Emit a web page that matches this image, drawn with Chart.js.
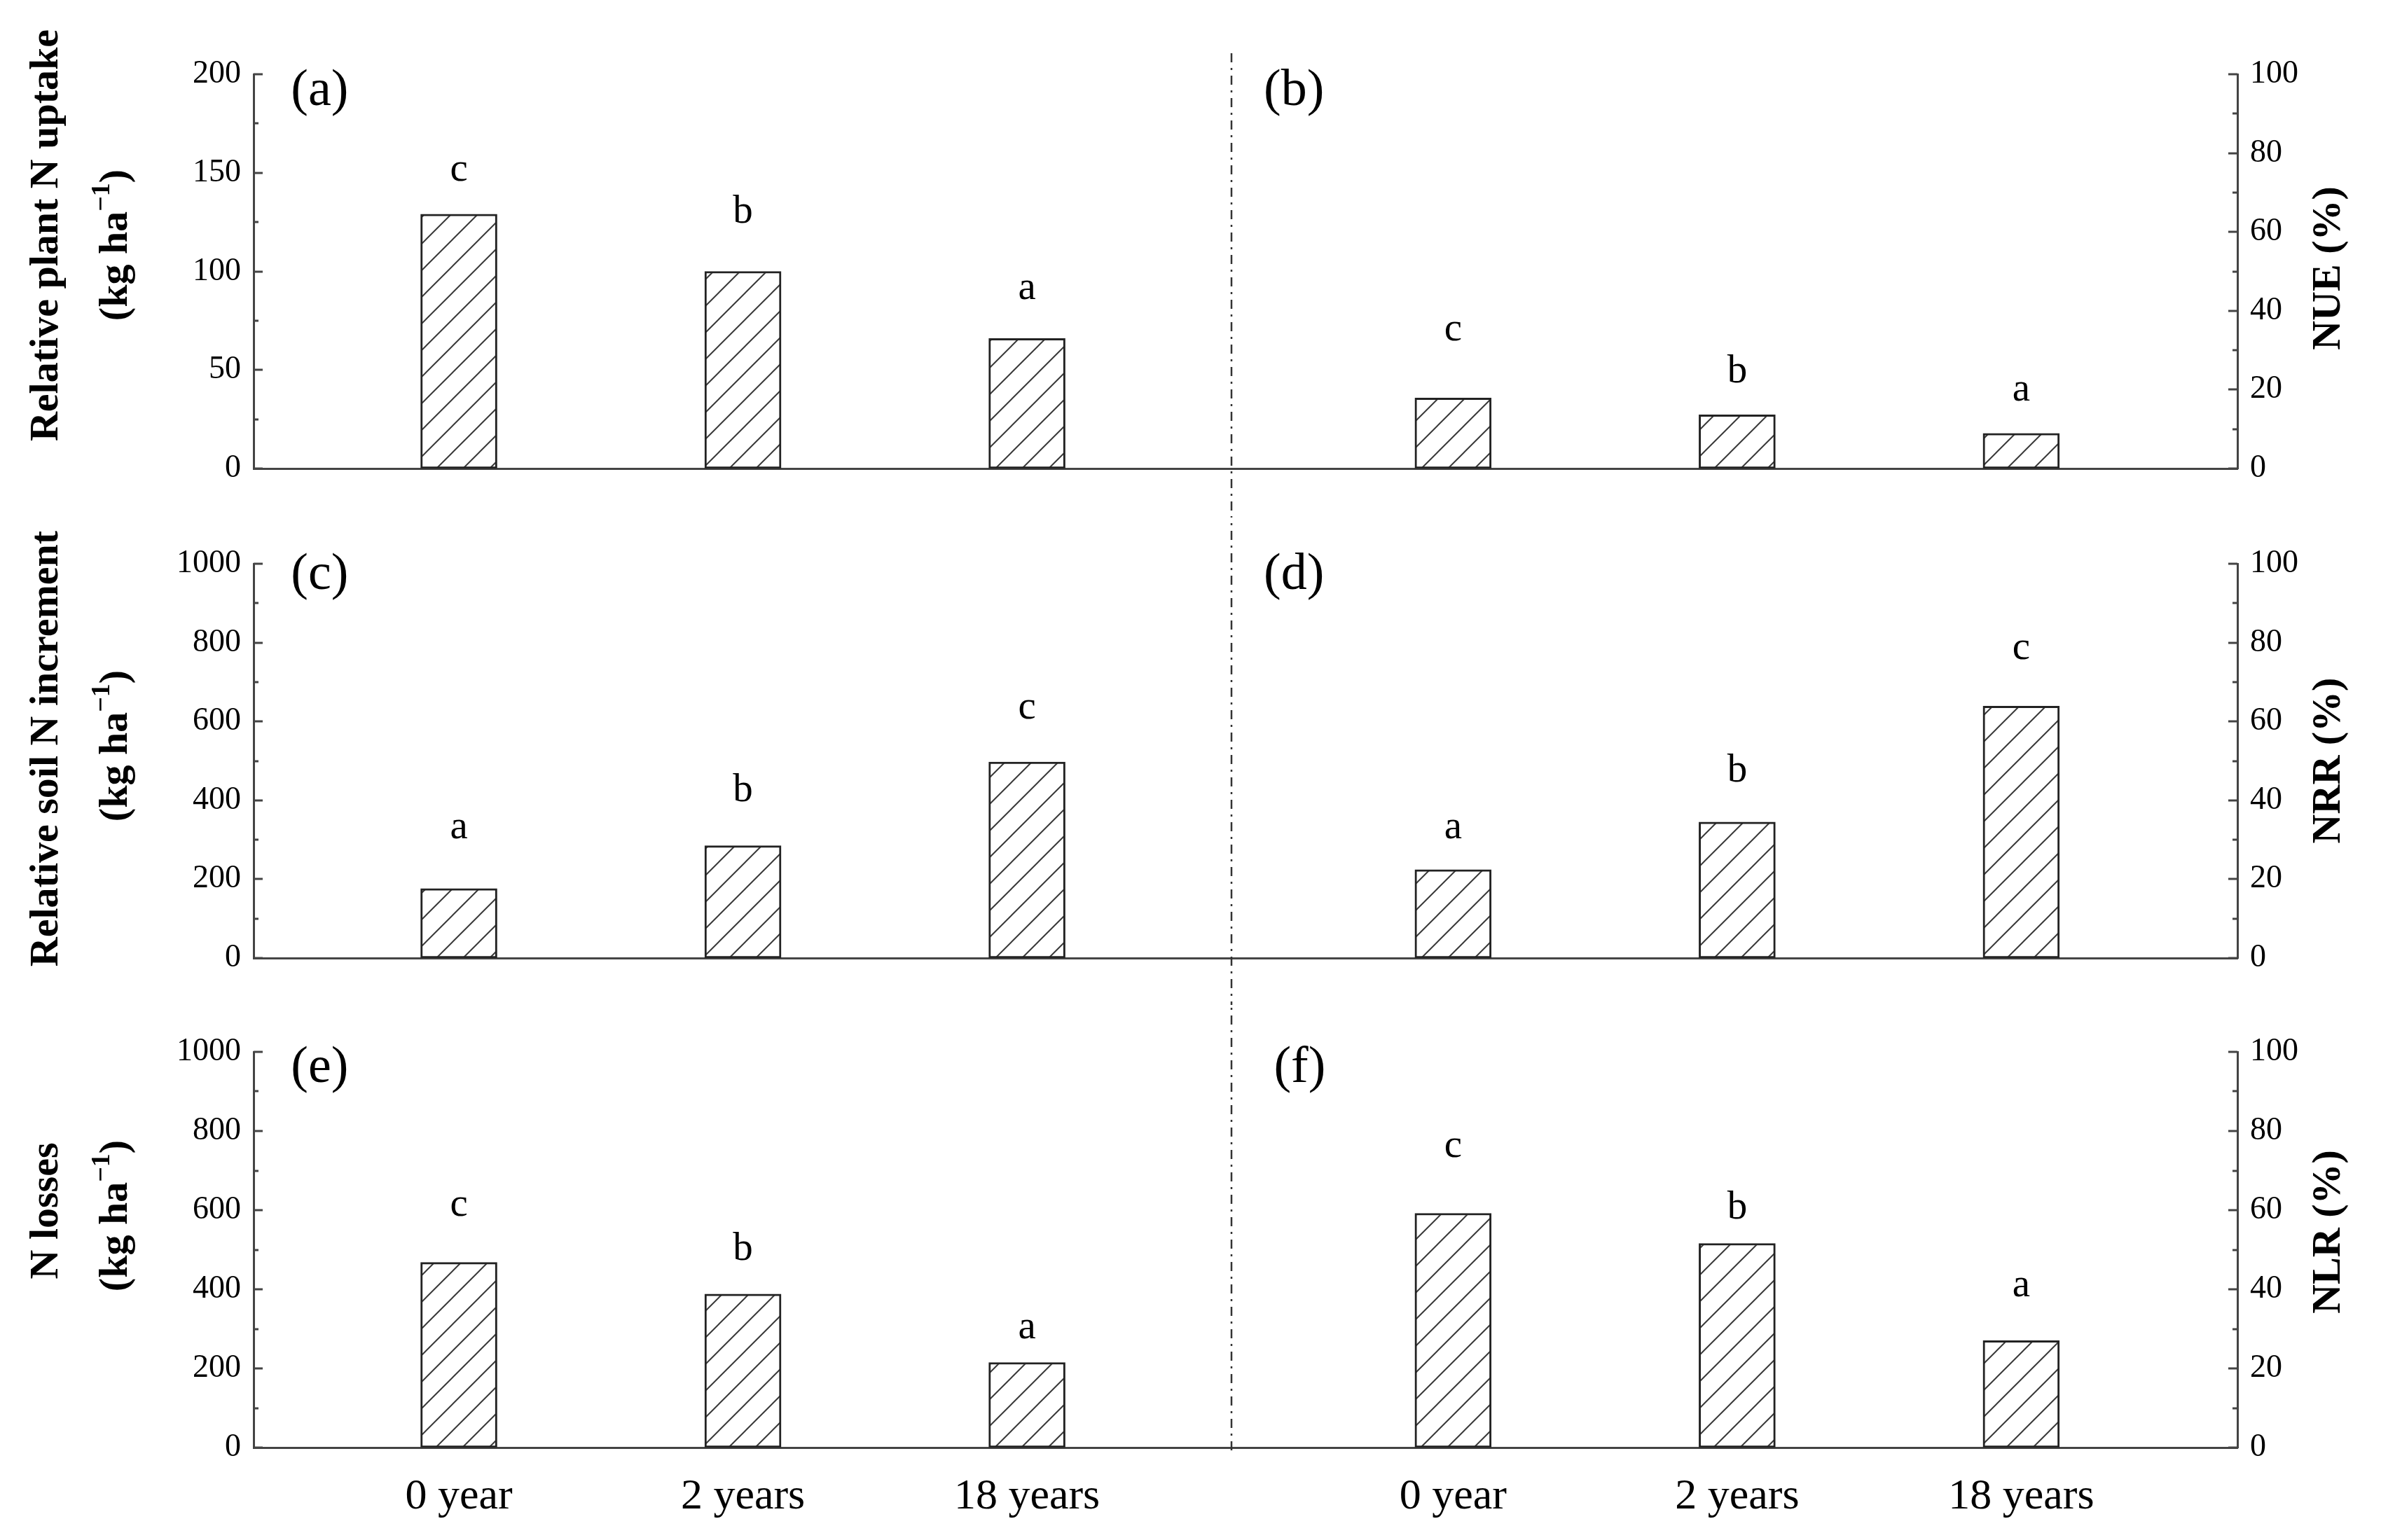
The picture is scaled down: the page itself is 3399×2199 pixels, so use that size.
<!DOCTYPE html>
<html>
<head>
<meta charset="utf-8">
<script src="https://cdn.jsdelivr.net/npm/chart.js@4.4.0/dist/chart.umd.min.js"></script>
<style>
  html, body { margin: 0; padding: 0; background: #fff; }
  #wrap { position: relative; width: 3399px; height: 2199px; overflow: hidden; }
  #wrap canvas { position: absolute; left: 0; }
</style>
</head>
<body>
<div id="wrap">
  <canvas id="row1"></canvas>
  <canvas id="row2"></canvas>
  <canvas id="row3"></canvas>
</div>
<script>
// ---- data ----
const categories = ['0 year', '2 years', '18 years'];

const plantUptake   = [129, 100, 66];      // (a) kg ha-1
const nue           = [17.9, 13.6, 8.9];   // (b) %
const soilIncrement = [176, 285, 497];     // (c) kg ha-1
const nrr           = [22.4, 34.5, 63.9];  // (d) %
const nLosses       = [468, 388, 215];     // (e) kg ha-1
const nlr           = [59.2, 51.6, 27.0];  // (f) %

// significance letters and the height (in axis units) they sit at
const lettersA = ['c', 'b', 'a'];  const letterYA = [150.6, 131.4, 90.6];
const lettersB = ['c', 'b', 'a'];  const letterYB = [34.9, 25.3, 19.5];
const lettersC = ['a', 'b', 'c'];  const letterYC = [327, 431, 631];
const lettersD = ['a', 'b', 'c'];  const letterYD = [32.7, 48.1, 78.2];
const lettersE = ['c', 'b', 'a'];  const letterYE = [608, 508, 300];
const lettersF = ['c', 'b', 'a'];  const letterYF = [75.7, 61.2, 40.5];

// x slots on the shared linear axis: left panel, right panel
const leftSlots  = [0, 1, 2];
const rightSlots = [3.5, 4.5, 5.5];
const dividerAt = 2.72;

// ---- look ----
const FAM = '"Liberation Serif", "Times New Roman", serif';
const AXIS = '#444';
Chart.defaults.font.family = FAM;
Chart.defaults.color = '#000';

function hatch() {
  const p = document.createElement('canvas');
  p.width = p.height = 38;
  const c = p.getContext('2d');
  c.fillStyle = '#fff';
  c.fillRect(0, 0, 38, 38);
  c.strokeStyle = '#3a3a3a';
  c.lineWidth = 2;
  c.beginPath();
  c.moveTo(0, 38); c.lineTo(38, 0);
  c.moveTo(-19, 19); c.lineTo(19, -19);
  c.moveTo(19, 57); c.lineTo(57, 19);
  c.stroke();
  return c.createPattern(p, 'repeat');
}

function drawTicks(ctx, scale, step, side) {
  ctx.save();
  ctx.strokeStyle = AXIS;
  ctx.lineWidth = 3;
  const x0 = side === 'left' ? scale.right : scale.left;
  const dir = side === 'left' ? 1 : -1;
  for (let v = scale.min; v <= scale.max + 1e-9; v += step / 2) {
    const y = Math.round(scale.getPixelForValue(v));
    const major = Math.abs(v / step - Math.round(v / step)) < 1e-6;
    ctx.beginPath();
    ctx.moveTo(x0, y);
    ctx.lineTo(x0 + dir * (major ? 13 : 7), y);
    ctx.stroke();
  }
  ctx.restore();
}

function vText(ctx, text, cx, cy) {
  ctx.save();
  ctx.translate(cx, cy);
  ctx.rotate(-Math.PI / 2);
  ctx.font = 'bold 58px ' + FAM;
  ctx.textAlign = 'center';
  ctx.textBaseline = 'alphabetic';
  ctx.fillStyle = '#000';
  ctx.fillText(text, 0, 19);
  ctx.restore();
}

function vUnit(ctx, cx, cy) {
  ctx.save();
  ctx.translate(cx, cy);
  ctx.rotate(-Math.PI / 2);
  const big = 'bold 58px ' + FAM, small = 'bold 38px ' + FAM;
  const parts = [['(kg ha', big, 19], ['\u22121', small, -6], [')', big, 19]];
  let w = 0;
  parts.forEach(p => { ctx.font = p[1]; w += ctx.measureText(p[0]).width; });
  let x = -w / 2;
  ctx.textAlign = 'left';
  ctx.textBaseline = 'alphabetic';
  ctx.fillStyle = '#000';
  parts.forEach(p => { ctx.font = p[1]; ctx.fillText(p[0], x, p[2]); x += ctx.measureText(p[0]).width; });
  ctx.restore();
}

function makeRow(r) {
  const canvas = document.getElementById(r.id);
  canvas.width = 3399;
  canvas.height = r.height;
  canvas.style.top = r.top + 'px';

  const barStyle = {
    backgroundColor: hatch(),
    borderColor: '#222',
    borderWidth: 3,
    borderSkipped: false,
    barThickness: 109,
    grouped: false
  };

  const decor = {
    id: 'decor' + r.id,
    afterDraw(chart) {
      const ctx = chart.ctx;
      const x = chart.scales.x, yL = chart.scales.yL, yR = chart.scales.yR;
      drawTicks(ctx, yL, r.leftStep, 'left');
      drawTicks(ctx, yR, 20, 'right');

      // dash-dot divider running through all rows
      const dx = Math.round(x.getPixelForValue(dividerAt));
      const y0 = Math.max(76, r.top) - r.top;
      const y1 = Math.min(2072, r.top + r.height) - r.top;
      ctx.save();
      ctx.strokeStyle = '#333';
      ctx.lineWidth = 2.5;
      ctx.setLineDash([13, 8, 3, 8]);
      ctx.lineDashOffset = -(r.top + y0 - 76);
      ctx.beginPath();
      ctx.moveTo(dx, y0);
      ctx.lineTo(dx, y1);
      ctx.stroke();
      ctx.restore();

      // panel tags
      ctx.save();
      ctx.fillStyle = '#000';
      ctx.font = '74px ' + FAM;
      ctx.textAlign = 'center';
      ctx.textBaseline = 'alphabetic';
      const tagY = chart.chartArea.top + r.tagDy + 19;
      ctx.fillText(r.tags[0], x.getPixelForValue(-0.49), tagY);
      ctx.fillText(r.tags[1], x.getPixelForValue(r.tagRight), tagY);

      // significance letters
      ctx.font = '57px ' + FAM;
      const put = (letters, ys, slots, scale) => letters.forEach((l, i) => {
        ctx.fillText(l, x.getPixelForValue(slots[i]), scale.getPixelForValue(ys[i]) + (l === 'b' ? 19 : 13));
      });
      put(r.lettersL, r.letterYL, leftSlots, yL);
      put(r.lettersR, r.letterYR, rightSlots, yR);
      ctx.restore();

      // axis titles
      vText(ctx, r.titleL, 63, r.titleLY - r.top);
      vUnit(ctx, 162, r.unitY - r.top);
      vText(ctx, r.titleR, 3321, r.titleRY - r.top);
    }
  };

  new Chart(canvas, {
    type: 'bar',
    data: {
      datasets: [
        Object.assign({ data: r.left.map((v, i) => ({ x: leftSlots[i], y: v })), yAxisID: 'yL' }, barStyle),
        Object.assign({ data: r.right.map((v, i) => ({ x: rightSlots[i], y: v })), yAxisID: 'yR' }, barStyle)
      ]
    },
    options: {
      responsive: false,
      animation: false,
      devicePixelRatio: 1,
      layout: { padding: { top: r.padTop, left: 0, right: 0, bottom: 0 } },
      plugins: { legend: { display: false }, tooltip: { enabled: false } },
      scales: {
        x: {
          type: 'linear',
          min: -0.7226,
          max: 6.261,
          offset: false,
          grid: { display: false, drawTicks: false },
          border: { display: true, color: AXIS, width: 3 },
          afterBuildTicks: s => { s.ticks = leftSlots.concat(rightSlots).map(v => ({ value: v })); },
          afterFit: s => { s.height = r.xHeight; },
          ticks: {
            display: r.showX,
            padding: 34,
            font: { size: 62 },
            color: '#000',
            maxRotation: 0,
            autoSkip: false,
            callback: v => {
              let i = leftSlots.indexOf(v);
              if (i < 0) i = rightSlots.indexOf(v);
              return i < 0 ? '' : categories[i];
            }
          }
        },
        yL: {
          position: 'left',
          min: 0,
          max: r.leftMax,
          grid: { display: false, drawTicks: false },
          border: { display: true, color: AXIS, width: 3 },
          afterFit: s => { s.width = 362; },
          ticks: { stepSize: r.leftStep, padding: 18, font: { size: 46 }, color: '#000', callback: v => String(v) }
        },
        yR: {
          position: 'right',
          min: 0,
          max: 100,
          grid: { display: false, drawTicks: false },
          border: { display: true, color: AXIS, width: 3 },
          afterFit: s => { s.width = 205; },
          ticks: { stepSize: 20, padding: 18, font: { size: 46 }, color: '#000', callback: v => String(v) }
        }
      }
    },
    plugins: [decor]
  });
}

makeRow({
  id: 'row1', top: 0, height: 737, padTop: 106, xHeight: 68, showX: false,
  left: plantUptake, right: nue, leftMax: 200, leftStep: 50,
  lettersL: lettersA, letterYL: letterYA, lettersR: lettersB, letterYR: letterYB,
  tags: ['(a)', '(b)'], tagDy: 25, tagRight: 2.94,
  titleL: 'Relative plant N uptake', titleLY: 336, unitY: 350,
  titleR: 'NUE (%)', titleRY: 383
});
makeRow({
  id: 'row2', top: 737, height: 698, padTop: 68, xHeight: 67, showX: false,
  left: soilIncrement, right: nrr, leftMax: 1000, leftStep: 200,
  lettersL: lettersC, letterYL: letterYC, lettersR: lettersD, letterYR: letterYD,
  tags: ['(c)', '(d)'], tagDy: 17, tagRight: 2.94,
  titleL: 'Relative soil N increment', titleLY: 1069, unitY: 1065,
  titleR: 'NRR (%)', titleRY: 1086
});
makeRow({
  id: 'row3', top: 1435, height: 764, padTop: 67, xHeight: 132, showX: true,
  left: nLosses, right: nlr, leftMax: 1000, leftStep: 200,
  lettersL: lettersE, letterYL: letterYE, lettersR: lettersF, letterYR: letterYF,
  tags: ['(e)', '(f)'], tagDy: 24, tagRight: 2.96,
  titleL: 'N losses', titleLY: 1729, unitY: 1736,
  titleR: 'NLR (%)', titleRY: 1759
});
</script>
</body>
</html>
